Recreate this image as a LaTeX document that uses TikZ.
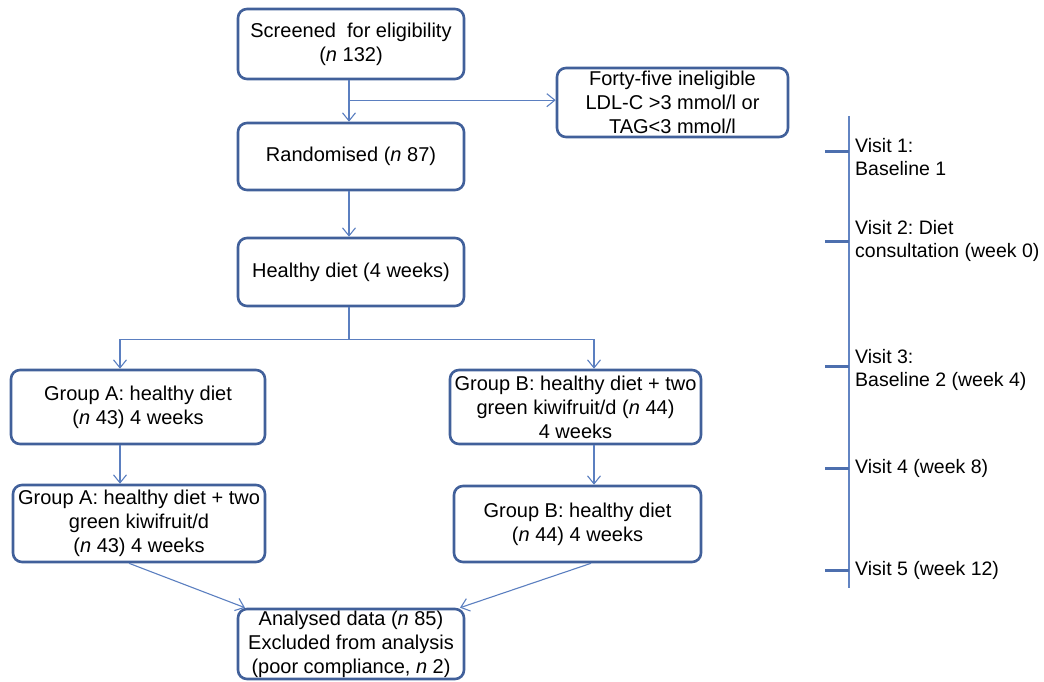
\documentclass[tikz,border=0pt]{standalone}
\usepackage{fontspec}
\setmainfont{Liberation Sans}
\usetikzlibrary{arrows.meta,calc}
\definecolor{boxline}{HTML}{41609A}
\definecolor{arrowc}{HTML}{5B7FC0}
\definecolor{tline}{HTML}{6284C2}
\definecolor{tickc}{HTML}{4D6FAE}
\frenchspacing
\begin{document}
\begin{tikzpicture}[x=1pt,y=-1pt,
  flowbox/.style={draw=boxline, line width=2.6pt, rounded corners=9pt, align=center, inner sep=1pt, font=\fontsize{20}{24}\selectfont},
  conn/.style={draw=arrowc, line width=1.1pt},
  arr/.style={conn, -{Straight Barb[length=8pt,width=13pt,line width=1.1pt]}},
  visit/.style={anchor=west, inner sep=0pt, align=left, font=\fontsize{19.5}{22.5}\selectfont},
  tickmark/.style={draw=tickc, line width=3pt},
  axisline/.style={draw=tline, line width=2pt}]
\useasboundingbox (0,0) rectangle (1044,682);

% boxes
\node[flowbox, minimum width=226pt, minimum height=70pt] (screen) at (351,44) {Screened\ \ for eligibility\\(\textit{n} 132)};
\node[flowbox, minimum width=231pt, minimum height=69pt] (inel) at (672.5,102.5) {Forty-five ineligible\\LDL-C {>}3 mmol/l or\\TAG{<}3 mmol/l};
\node[flowbox, minimum width=226pt, minimum height=67pt] (rand) at (351,156.5) {Randomised (\textit{n} 87)};
\node[flowbox, minimum width=226pt, minimum height=68pt] (healthy) at (351,272) {Healthy diet (4 weeks)};
\node[flowbox, minimum width=254pt, minimum height=74pt] (A1) at (138,407) {Group A: healthy diet\\(\textit{n} 43) 4 weeks};
\node[flowbox, minimum width=251pt, minimum height=74pt] (B1) at (575.5,407) {Group B: healthy diet + two\\green kiwifruit/d (\textit{n} 44)\\4 weeks};
\node[flowbox, minimum width=252pt, minimum height=77pt] (A2) at (139,523.5) {Group A: healthy diet + two\\green kiwifruit/d\\(\textit{n} 43) 4 weeks};
\node[flowbox, minimum width=247pt, minimum height=76pt] (B2) at (577.5,524) {Group B: healthy diet\\(\textit{n} 44) 4 weeks};
\node[flowbox, minimum width=226pt, minimum height=70pt] (ana) at (351,644) {Analysed data (\textit{n} 85)\\Excluded from analysis\\(poor compliance, \textit{n} 2)};

% connectors
\draw[arr] ([xshift=-2pt]screen.south) -- ([xshift=-2pt]rand.north);
\coordinate (br) at ($([xshift=-2pt]screen.south)!0.48!([xshift=-2pt]rand.north)$);
\draw[arr] (br) -- (br -| inel.west);
\draw[arr] ([xshift=-2pt]rand.south) -- ([xshift=-2pt]healthy.north);
\draw[conn] ([xshift=-2pt]healthy.south) -- ++(0,32) coordinate (split);
\draw[arr] (split) -| ([xshift=-18pt]A1.north);
\draw[arr] (split) -| ([xshift=18.5pt]B1.north);
\draw[arr] ([xshift=-18pt]A1.south) -- ([xshift=-19pt]A2.north);
\draw[arr] ([xshift=18.5pt]B1.south) -- ([xshift=16.5pt]B2.north);
\draw[arr] ([xshift=-10pt]A2.south) -- ([xshift=-106pt]ana.north);
\draw[arr] ([xshift=13.5pt]B2.south) -- ([xshift=109pt]ana.north);

% timeline
\draw[axisline] (849,116) -- (849,588);
\foreach \yy in {152,241,366,468,570} \draw[tickmark] (825,\yy) -- (849,\yy);
\node[visit] (v1) at (855,157) {Visit 1:\\Baseline 1};
\node[visit] (v2) at (855,241) {Visit 2: Diet\\consultation (week 0)};
\node[visit] (v3) at (855,370) {Visit 3:\\Baseline 2 (week 4)};
\node[visit] (v4) at (855,468) {Visit 4 (week 8)};
\node[visit] (v5) at (855,570) {Visit 5 (week 12)};
\end{tikzpicture}
\end{document}
